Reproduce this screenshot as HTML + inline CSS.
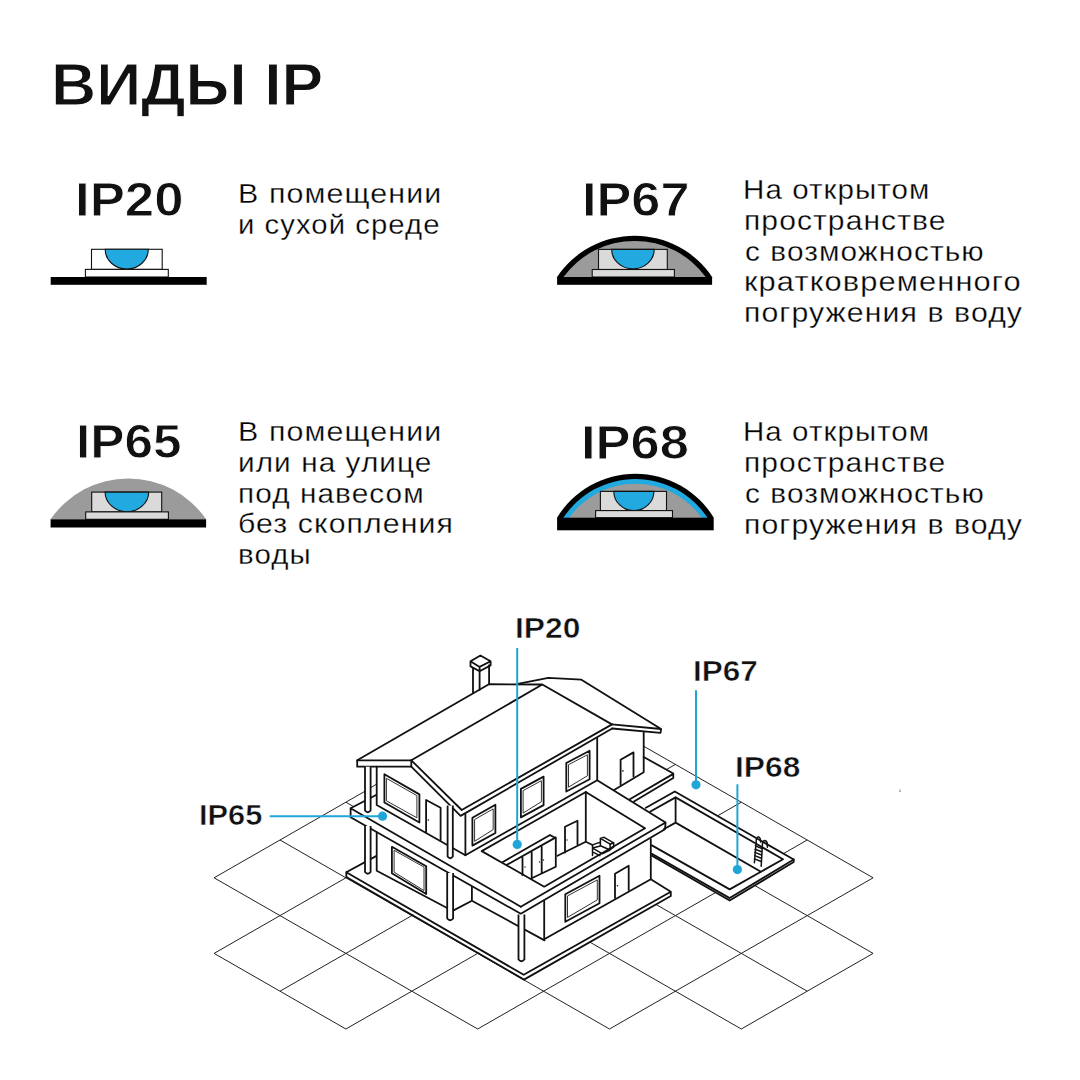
<!DOCTYPE html>
<html><head><meta charset="utf-8">
<style>
html,body{margin:0;padding:0;background:#fff;width:1080px;height:1080px;overflow:hidden;position:relative}
.t{position:absolute;font-family:"Liberation Sans",sans-serif;color:#111;white-space:nowrap;transform-origin:0 0;line-height:0;z-index:1}
.title{font-weight:bold;font-size:60.0px;-webkit-text-stroke:1.1px #fff}
.ip{font-weight:bold;font-size:49.0px;-webkit-text-stroke:0.9px #fff}
.d{font-size:27.5px;color:#000;letter-spacing:1.0px;-webkit-text-stroke:0.3px #fff}
.lab{font-weight:bold;font-size:29.6px;-webkit-text-stroke:0.5px #fff}
svg{position:absolute;left:0;top:0;z-index:0}
</style></head><body>
<div class="t title" id="t0" style="left:50.89px;top:85.21px;transform:scaleX(1.0417)">ВИДЫ IP</div>
<div class="t ip" id="t1" style="left:75.09px;top:198.62px;transform:scaleX(1.0766)">IP20</div>
<div class="t ip" id="t2" style="left:581.64px;top:198.62px;transform:scaleX(1.0660)">IP67</div>
<div class="t ip" id="t3" style="left:75.81px;top:441.22px;transform:scaleX(1.0463)">IP65</div>
<div class="t ip" id="t4" style="left:580.72px;top:441.92px;transform:scaleX(1.0705)">IP68</div>
<div class="t lab" id="t5" style="left:514.95px;top:628.49px;transform:scaleX(1.0737)">IP20</div>
<div class="t lab" id="t6" style="left:692.97px;top:670.94px;transform:scaleX(1.0649)">IP67</div>
<div class="t lab" id="t7" style="left:735.36px;top:766.54px;transform:scaleX(1.0724)">IP68</div>
<div class="t lab" id="t8" style="left:198.62px;top:814.74px;transform:scaleX(1.0397)">IP65</div>
<div class="t d" id="t9" style="left:238.19px;top:194.22px;transform:scaleX(1.1050)">В помещении</div>
<div class="t d" id="t10" style="left:238.27px;top:225.22px;transform:scaleX(1.0640)">и сухой среде</div>
<div class="t d" id="t11" style="left:742.88px;top:190.07px;transform:scaleX(1.0728)">На открытом</div>
<div class="t d" id="t12" style="left:743.92px;top:220.87px;transform:scaleX(1.0917)">пространстве</div>
<div class="t d" id="t13" style="left:745.02px;top:251.67px;transform:scaleX(1.0830)">с возможностью</div>
<div class="t d" id="t14" style="left:743.86px;top:282.47px;transform:scaleX(1.1197)">кратковременного</div>
<div class="t d" id="t15" style="left:743.90px;top:313.27px;transform:scaleX(1.0984)">погружения в воду</div>
<div class="t d" id="t16" style="left:238.19px;top:432.17px;transform:scaleX(1.1050)">В помещении</div>
<div class="t d" id="t17" style="left:238.24px;top:462.92px;transform:scaleX(1.0811)">или на улице</div>
<div class="t d" id="t18" style="left:238.24px;top:493.67px;transform:scaleX(1.0821)">под навесом</div>
<div class="t d" id="t19" style="left:238.20px;top:524.42px;transform:scaleX(1.0995)">без скопления</div>
<div class="t d" id="t20" style="left:238.26px;top:555.17px;transform:scaleX(1.0703)">воды</div>
<div class="t d" id="t21" style="left:742.89px;top:432.07px;transform:scaleX(1.0716)">На открытом</div>
<div class="t d" id="t22" style="left:743.92px;top:462.97px;transform:scaleX(1.0901)">пространстве</div>
<div class="t d" id="t23" style="left:745.02px;top:493.87px;transform:scaleX(1.0835)">с возможностью</div>
<div class="t d" id="t24" style="left:743.90px;top:524.77px;transform:scaleX(1.0980)">погружения в воду</div>
<svg width="1080" height="1080" viewBox="0 0 1080 1080">
<g stroke="#111" stroke-width="1.1"><rect x="91.5" y="249.3" width="70.70" height="20.10" fill="#fff"/><path d="M105.2 249.3 A21.55 19.70 0 0 0 148.3 249.3 Z" fill="#22a9df"/><rect x="85.4" y="269.4" width="82.90" height="7.60" fill="#fff"/></g>
<rect x="50.7" y="277" width="156" height="7.8" fill="#000"/>
<path d="M50.37 519.60 A94.40 94.40 0 0 1 206.33 519.60 Z" fill="#9b9b9b"/>
<g stroke="#111" stroke-width="1.1"><rect x="91.7" y="492.1" width="70.00" height="19.80" fill="#dadada"/><path d="M105.1 492.1 A21.80 19.60 0 0 0 148.7 492.1 Z" fill="#22a9df"/><rect x="85.7" y="511.9" width="82.70" height="7.40" fill="#dadada"/></g>
<rect x="50.6" y="519.3" width="155.5" height="8.2" fill="#000"/>
<path d="M556.75 277.50 A93.40 93.40 0 0 1 712.45 277.50 Z" fill="#000"/>
<path d="M563.07 277.50 A88.20 88.20 0 0 1 706.13 277.50 Z" fill="#9b9b9b"/>
<g stroke="#111" stroke-width="1.1"><rect x="598.5" y="249.4" width="68.80" height="20.10" fill="#dadada"/><path d="M611.7 249.4 A21.25 19.40 0 0 0 654.2 249.4 Z" fill="#22a9df"/><rect x="592.2" y="269.5" width="82.20" height="7.50" fill="#dadada"/></g>
<rect x="557.1" y="277" width="155" height="7.8" fill="#000"/>
<path d="M556.90 518.00 A91.70 91.70 0 0 1 713.90 518.00 Z" fill="#000"/>
<path d="M563.16 518.00 A86.40 86.40 0 0 1 707.64 518.00 Z" fill="#22a9df"/>
<path d="M568.98 518.00 A81.60 81.60 0 0 1 701.82 518.00 Z" fill="#9b9b9b"/>
<g stroke="#111" stroke-width="1.1"><rect x="600.4" y="491.4" width="66.10" height="19.20" fill="#dadada"/><path d="M613.8 491.4 A20.05 19.20 0 0 0 653.9 491.4 Z" fill="#22a9df"/><rect x="595.6" y="510.6" width="76.90" height="7.10" fill="#dadada"/></g>
<rect x="557.1" y="517.7" width="156.6" height="12.6" fill="#000"/>
<g stroke="#222" stroke-width="1" fill="none">
<path d="M214.1 953.4 L345.9 1029.0 M214.1 877.8 L477.7 1029.0 M280.0 840.0 L609.5 1029.0 M345.9 802.2 L741.3 1029.0 M411.8 764.4 L807.2 991.2 M477.7 726.6 L873.1 953.4 M543.6 688.8 L873.1 877.8 M214.1 877.8 L543.6 688.8 M214.1 953.4 L609.5 726.6 M280.0 991.2 L675.4 764.4 M345.9 1029.0 L741.3 802.2 M477.7 1029.0 L807.2 840.0 M609.5 1029.0 L873.1 877.8 M741.3 1029.0 L873.1 953.4"/>
</g><!-- silhouettes -->
<g fill="#fff" stroke="none">
<path d="M357.2 760.3 L472.8 693.3 L472.8 668 L470.6 662.8 L480.2 655.6 L490.6 661.1 L490.6 665 L488.9 684.2 L517.8 683.9 L548.3 677.8 L581.4 679.7 L661.1 729 L660.5 732.9 L643.7 732 L643.7 757 L673.3 773.5 L673.3 778.1 L633 802 L665.6 822.5 L665 829.2 L650.8 839.2 L650.8 879.2 L670.8 891.7 L670.8 895.8 L525 979.2 L346.7 876.1 L346.7 872.8 L365 862.5 L365 825.6 L352.2 817.8 L350.6 808.3 L365 800.8 L365 766.7 L357.2 766.7 Z"/>
<path d="M674.8 791.5 L793.7 859.5 L793.7 862.1 L729.7 900.5 L651.9 855.6 L645.9 807.8 Z"/>
</g>
<g stroke="#111" stroke-width="1.8" fill="none" stroke-linejoin="round" stroke-linecap="round">
<!-- pool -->
<path d="M645.9 807.8 L674.8 791.5 L793.7 859.5 L729.7 898.1 L651.9 853.7"/>
<path d="M793.7 859.5 L793.7 862.1 L729.7 900.5 L651.9 855.6"/>
<path d="M650.4 811.5 L675.6 797.4 L783 859.2 L729.7 889.4 L651.9 845.4"/>
<path d="M675.6 797.4 L675.6 822.6 L760.9 871.8 M675.6 822.6 L663.7 829.3"/>
<g stroke-width="1.5">
<path d="M754.4 862.8 L756.4 838.8 Q758.4 834.6 760.3 838.8 L760.6 842"/>
<path d="M761.2 866.3 L762.5 842.7 Q764.8 838.6 767.1 842.5 L767.4 847.2"/>
<path d="M755.4 845.9 L761.9 848.5 M755.1 849.2 L761.7 851.8 M754.9 852.4 L761.6 855 M754.7 855.6 L761.4 858.2 M754.5 858.9 L761.3 861.5"/>
</g>
<!-- roof -->
<path d="M357.2 760.3 L411.3 760.3 L411.3 766.7 L357.2 766.7 Z" fill="#fff"/>
<path d="M357.2 760.3 L488.9 684.2 L542.3 684.5 M411.3 760.3 L542.3 684.5 L611.9 724.4"/>
<path d="M411.3 760.3 L461.7 810 L612 724.4 M411.3 766.7 L460.6 815.9 L612.2 728.5"/>
<path d="M611.9 724.4 L661.1 729 L660.5 732.9 L612.2 728.5 M517.8 683.9 L548.3 677.8 L581.4 679.7 L661.1 729"/>
<!-- chimney -->
<path d="M470.5 661.3 L480.4 655.5 L490.6 661.3 L479.6 666.9 Z M470.5 661.3 L470.5 666.4 L479.6 671.3 L490.6 665.4 L490.6 661.3 M479.6 666.9 L479.6 671.3" fill="#fff"/>
<path d="M473 667.8 L473 693.2 M479.6 671.3 L479.6 689.9 M489.1 665.2 L489.1 684.3"/>
<!-- upper floor front wall -->
<path d="M376.7 766.7 L376.7 805 L465.4 855.2"/>
<path d="M384.4 774.2 L419.4 794.4 L419.4 822.5 L384.4 802.5 Z"/>
<path d="M426.1 832.2 L426.1 800 L440.6 807.8 L440.6 840"/>
<path d="M465.4 814.4 L465.4 855.2 L597.2 780.2 L597.2 737.8"/>
<path d="M472.4 817.8 L495.4 804.8 L495.4 833 L472.4 845.6 Z M520.9 788.9 L543.6 776.6 L543.6 805.1 L520.9 817.4 Z M566.3 763 L589.6 750.7 L589.6 779.2 L566.3 791.5 Z"/>
<!-- wing wall + terrace -->
<path d="M643.7 732 L643.7 772.3 L614.1 789.9"/>
<path d="M620.6 784.8 L620.6 759.8 L633.5 752.4 L633.5 776.5"/>
<path d="M643.7 757 L673.3 773.5 L673.3 778.1 L634 801.5 M673.3 773.9 L629.8 799.3"/>
<!-- slab ring -->
<path d="M597.2 780.2 L665.6 822.5 L665 829.2 L520.8 913.8 M665.6 822.5 L520.8 906.7"/>
<path d="M481.7 851.1 L585.8 792 M481.7 851.1 L544.2 886.7 L645 828.3 L585.8 792"/>
<!-- main balcony slab -->
<path d="M350.6 808.3 L520.8 906.7 M350.6 808.3 L350.6 817.2 L520.8 913.8 M350.6 808.3 L376.1 795"/>
<!-- room interior -->
<path d="M585.8 792 L585.8 841.7 M557.5 855.8 L585.8 841.7 L592.5 845"/>
<path d="M565 852.5 L565 826.7 L577.5 820.8 L577.5 844.2"/>
<path d="M502.4 862.2 L550 835 L555.8 838.3 L555.8 866.7 L531.7 878.3 M506.9 864.8 L555.8 837.4 M522.5 857.5 L522.5 875 M531.7 852.5 L531.7 878.3 M541.7 846.7 L541.7 872.5"/>
<g stroke-width="1.5"><path d="M600.4 838.4 L604.1 837.3 L613.6 842.8 L610.1 844.2 Z" fill="#fff"/>
<path d="M600.4 838.4 L600.4 845.8 L610.1 850 L610.1 844.2 M613.6 842.8 L613.6 847.2 L610.1 849.6 M592.5 844.9 L600.4 842.1 M593.4 847.7 L600.4 846.1 M593.4 848.6 L602.2 853.7 L610.1 850 M592.5 851.9 L599.9 855.6 M592.5 844.9 L592.5 855.6"/></g>
<!-- lower floor -->
<path d="M376.7 832.2 L376.7 870.7 L452.8 911"/>
<path d="M391.9 846.8 L426.2 866.2 L426.2 894.1 L391.9 873.3 Z"/>
<path d="M453.1 910.6 L471.9 900.8 L471.9 886.6 M471.9 900.8 L544.5 940.4"/>
<path d="M544.2 900.3 L544.2 939.2 L650.8 879.2 L650.8 839.2"/>
<path d="M565.3 894.2 L599.5 875.8 L599.5 903.3 L565.3 921.7 Z"/>
<path d="M615 897.9 L615 873.7 L628.7 865.8 L628.7 890"/>
<!-- base slab -->
<path d="M346.3 872.2 L523.7 974.8 L670.8 891.7 L650.8 879.2 M346.3 872.2 L346.3 877 L524 979.6 L670.8 896 L670.8 891.7 M346.3 872.2 L376.1 856.1"/>
</g>
<path d="M370.6 787.8 L376.1 784.4" stroke="#222" stroke-width="1"/>
<!-- pillars -->
<g stroke="#111" stroke-width="1.8" fill="#fff">
<path d="M365 766.7 L365 810.5 Q367.8 814 370.6 810.5 L370.6 766.7"/>
<path d="M447.6 805.6 L447.6 856.5 Q450.2 860 452.8 856.5 L452.8 805.6"/>
<path d="M365 826 L365 872 Q367.8 875.5 370.6 872 L370.6 826"/>
<path d="M447.2 873 L447.2 918.5 Q450.2 922 453.1 918.5 L453.1 873"/>
<path d="M518.5 914.4 L518.5 959.5 Q521.4 963 524.4 959.5 L524.4 914.4"/>
</g>
<g fill="#111"><circle cx="428.3" cy="820" r="0.8"/><circle cx="622.9" cy="770.9" r="0.8"/><circle cx="617.5" cy="885.8" r="0.8"/><circle cx="567" cy="840" r="0.7"/><circle cx="525" cy="867" r="0.7"/><circle cx="539.5" cy="862" r="0.7"/><circle cx="543.5" cy="860" r="0.7"/></g>
<!-- window inner frames -->
<g stroke="#333" stroke-width="1" fill="none">
<path d="M386.4 778.3 L416.9 795.6 L416.9 817.8 L386.4 800.8 Z"/>
<path d="M394.1 850.3 L424 867.1 L424 890.6 L394.1 872.1 Z"/>
<path d="M474.6 819.5 L493.2 808.9 L493.2 829.6 L474.6 841.3 Z"/>
<path d="M523.1 790.6 L541.4 780.7 L541.4 801.7 L523.1 813.1 Z"/>
<path d="M568.5 764.7 L587.4 754.8 L587.4 775.8 L568.5 787.2 Z"/>
<path d="M567.5 895.9 L597.3 879.9 L597.3 899.9 L567.5 917.4 Z"/>
</g>
<!-- blue leaders -->
<g stroke="#1fa6d6" stroke-width="2" fill="#1fa6d6">
<path d="M517.2 648 L517.2 844.4 M696 690.2 L696 784.8 M737.4 784.2 L737.4 869.6 M269.7 816.2 L382.5 816.2" fill="none"/>
<circle cx="517.2" cy="844.4" r="4.6" stroke="none"/>
<circle cx="696" cy="784.8" r="4.6" stroke="none"/>
<circle cx="737.4" cy="869.6" r="4.6" stroke="none"/>
<circle cx="382.5" cy="816.2" r="4.6" stroke="none"/>
</g>

<path d="M899.2 791.8 L900 788.8 L900.9 791.8 Z" fill="#777"/>

</svg>
</body></html>
